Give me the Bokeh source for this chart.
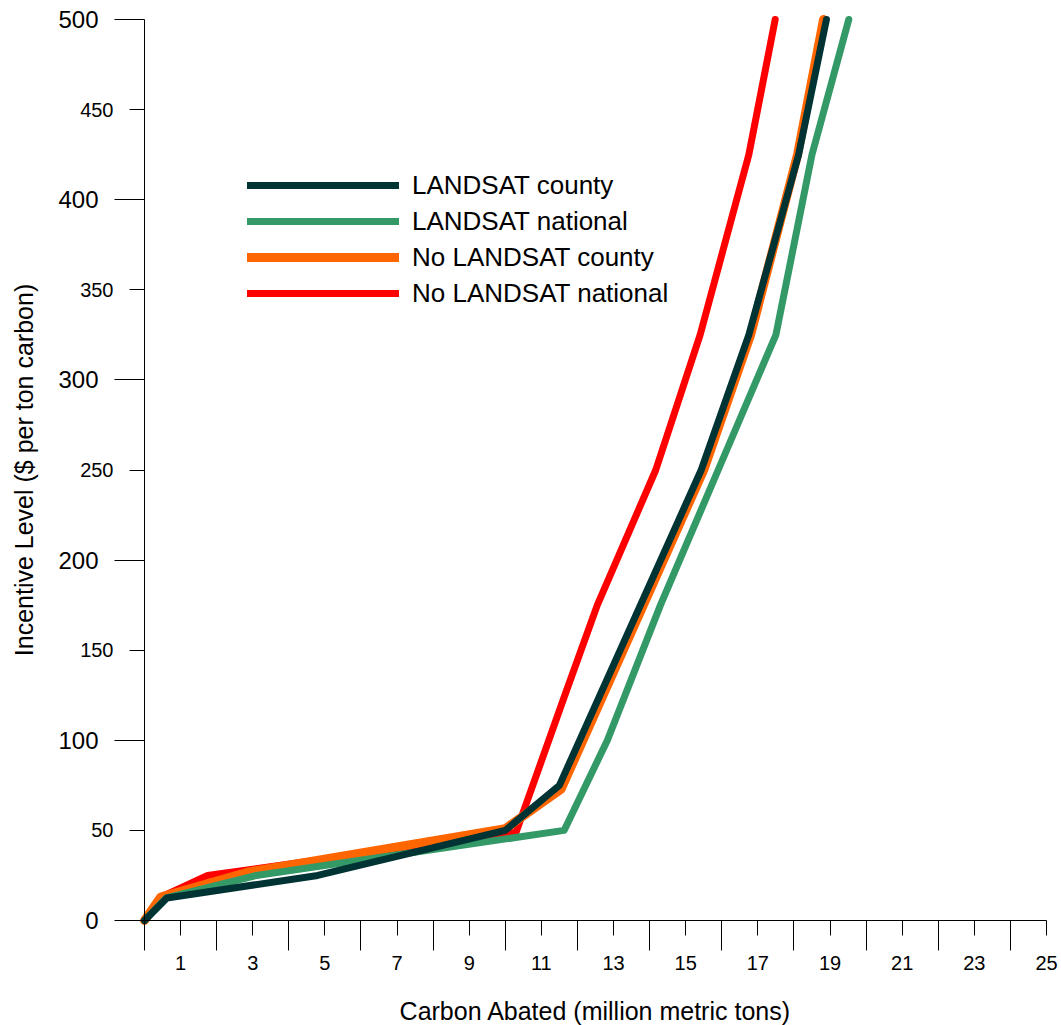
from bokeh.plotting import figure
from bokeh.models import FixedTicker, Range1d, Legend, LegendItem, LinearAxis
from bokeh.embed import file_html
from bokeh.resources import INLINE

FONT = "Liberation Sans"

# ---- data ----
x_label_ticks = list(range(1, 26, 2))
x_long_ticks = list(range(0, 25, 2))
y_major_ticks = [0, 100, 200, 300, 400, 500]
y_minor_ticks = [50, 150, 250, 350, 450]

ls_county_x = [0, 0.62, 4.8, 10.0, 11.5, 15.43, 16.75, 18.13, 18.9]
ls_county_y = [0, 12.5, 25, 50, 75, 250, 325, 425, 500]

ls_nat_x = [0, 0.6, 3.1, 11.63, 12.83, 14.3, 15.9, 17.5, 18.5, 19.52]
ls_nat_y = [0, 12.5, 25, 50, 100, 175, 250, 325, 425, 500]

no_county_x = [0, 0.45, 2.9, 10.0, 11.55, 15.5, 16.8, 18.1, 18.82]
no_county_y = [0, 13, 27, 51, 73, 250, 325, 425, 500]

no_nat_x = [0, 0.45, 1.75, 10.3, 11.65, 12.55, 14.17, 15.4, 16.75, 17.48]
no_nat_y = [0, 13, 25, 49, 125, 175, 250, 325, 425, 500]

names = ["LANDSAT county", "LANDSAT national", "No LANDSAT county", "No LANDSAT national"]
colors = ["#003333", "#339966", "#FF6600", "#FF0000"]
widths = [7, 7, 9, 7]

# ---- layout: frame fills the page, axes are placed at x=0 / y=0 ----
W, H = 1061, 1025
X0_PX, X_UNIT = 144.0, 36.08      # pixel of x=0, pixels per unit
Y0_PX, Y_UNIT = 920.0, 1.802      # pixel of y=0, pixels per unit
x_range = Range1d(-X0_PX / X_UNIT, (W - X0_PX) / X_UNIT)
y_range = Range1d(-(H - Y0_PX) / Y_UNIT, Y0_PX / Y_UNIT)

p = figure(width=W, height=H, output_backend="svg", toolbar_location=None,
           x_range=x_range, y_range=y_range,
           min_border=0, min_border_left=0, min_border_right=0,
           min_border_top=0, min_border_bottom=0)
p.outline_line_color = None
p.xgrid.visible = False
p.ygrid.visible = False
p.background_fill_color = "white"

# lines (drawn red, orange, green, dark)
r_red = p.line(no_nat_x, no_nat_y, line_color=colors[3], line_width=widths[3], line_cap="round", line_join="round")
r_org = p.line(no_county_x, no_county_y, line_color=colors[2], line_width=widths[2], line_cap="round", line_join="round")
r_grn = p.line(ls_nat_x, ls_nat_y, line_color=colors[1], line_width=widths[1], line_cap="round", line_join="round")
r_drk = p.line(ls_county_x, ls_county_y, line_color=colors[0], line_width=widths[0], line_cap="round", line_join="round")

# x axis
xa = p.xaxis[0]
xa.fixed_location = 0
xa.bounds = (0, 25)
xa.ticker = FixedTicker(ticks=x_label_ticks, minor_ticks=x_long_ticks)
xa.major_tick_in = 0
xa.major_tick_out = 15
xa.minor_tick_in = 0
xa.minor_tick_out = 30
xa.major_label_standoff = 5
xa.major_label_text_font = FONT
xa.major_label_text_font_size = "20px"
xa.major_label_text_color = "black"
xa.axis_label = "Carbon Abated (million metric tons)"
xa.axis_label_text_font = FONT
xa.axis_label_text_font_size = "25px"
xa.axis_label_text_font_style = "normal"
xa.axis_label_text_color = "black"
xa.axis_label_standoff = 24
xa.axis_line_color = "black"
xa.major_tick_line_color = "black"
xa.minor_tick_line_color = "black"

# y axis (hundreds)
ya = p.yaxis[0]
ya.fixed_location = 0
ya.bounds = (0, 500)
ya.ticker = FixedTicker(ticks=y_major_ticks, minor_ticks=[])
ya.major_tick_in = 0
ya.major_tick_out = 30
ya.minor_tick_in = 0
ya.minor_tick_out = 0
ya.major_label_standoff = 16
ya.major_label_text_font = FONT
ya.major_label_text_font_size = "24px"
ya.major_label_text_color = "black"
ya.axis_label = "Incentive Level ($ per ton carbon)"
ya.axis_label_text_font = FONT
ya.axis_label_text_font_size = "25px"
ya.axis_label_text_font_style = "normal"
ya.axis_label_text_color = "black"
ya.axis_label_standoff = 17
ya.axis_line_color = "black"
ya.major_tick_line_color = "black"

# second y axis at x=0 for the in-between ticks (50, 150, ...)
ya2 = LinearAxis(fixed_location=0, bounds=(0, 500),
                 ticker=FixedTicker(ticks=y_minor_ticks, minor_ticks=[]))
ya2.major_tick_in = 0
ya2.major_tick_out = 15
ya2.minor_tick_in = 0
ya2.minor_tick_out = 0
ya2.major_label_standoff = 16
ya2.major_label_text_font = FONT
ya2.major_label_text_font_size = "20px"
ya2.major_label_text_color = "black"
ya2.axis_line_color = None
ya2.major_tick_line_color = "black"
p.add_layout(ya2, "left")

legend = Legend(items=[LegendItem(label=names[0], renderers=[r_drk]),
                       LegendItem(label=names[1], renderers=[r_grn]),
                       LegendItem(label=names[2], renderers=[r_org]),
                       LegendItem(label=names[3], renderers=[r_red])],
                location=(247, 714), padding=0, spacing=0, margin=0,
                glyph_width=152, glyph_height=36, label_height=36, label_standoff=13,
                label_text_font=FONT, label_text_font_size="26px", label_text_color="black",
                border_line_color=None, background_fill_alpha=0)
p.add_layout(legend, "center")

open("out.html", "w").write(file_html(p, INLINE))
